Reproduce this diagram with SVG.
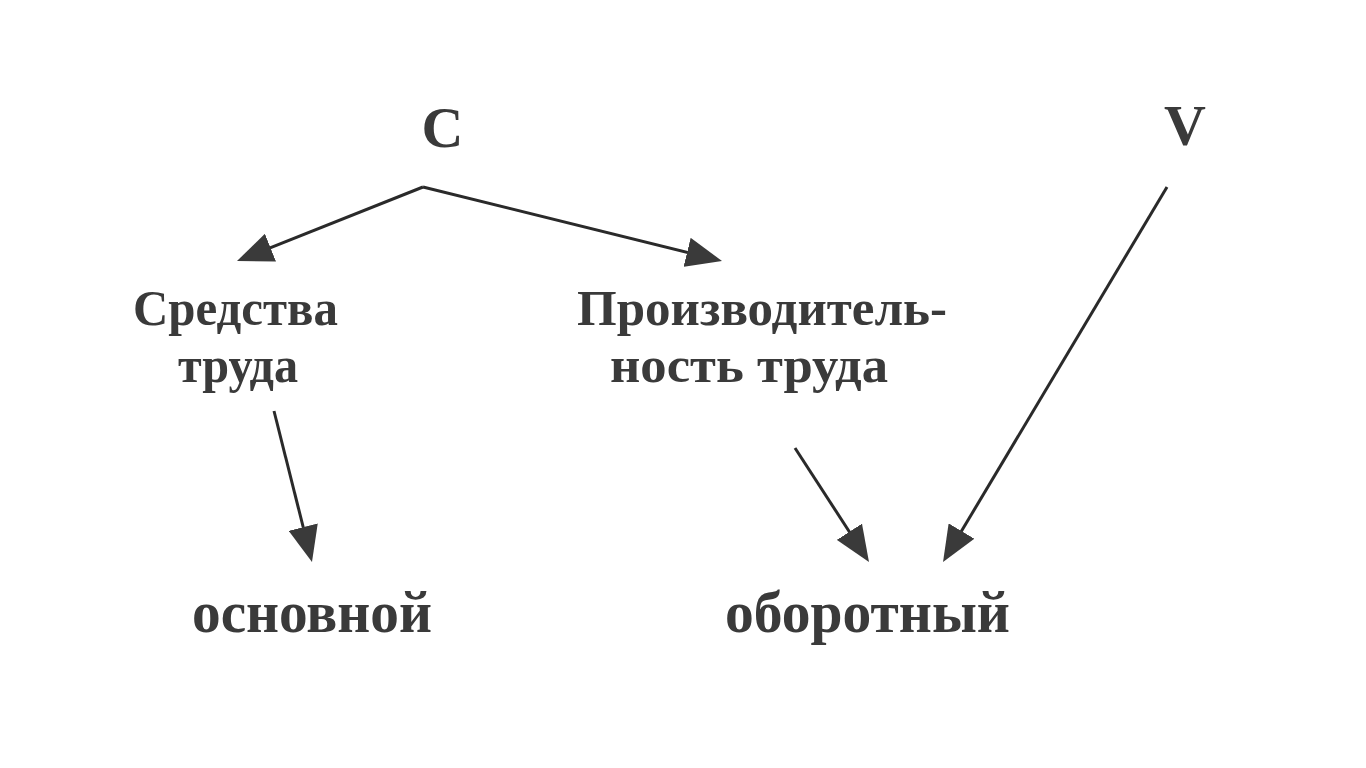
<svg xmlns="http://www.w3.org/2000/svg" width="1366" height="768" viewBox="0 0 1366 768">
  <style>
    .lbl { font-family: "Liberation Serif", "Times New Roman", serif; font-weight: bold; fill: #3a3a3a; }
    .big { font-size: 58px; }
    .mid { font-size: 51px; }
    .low { font-size: 60px; }
    .conn { stroke: #2a2a2a; stroke-width: 3; fill: none; marker-end: url(#arrow); }
  </style>
  <defs>
    <marker id="arrow" viewBox="0 0 36 30" refX="16" refY="15" markerWidth="36" markerHeight="30" markerUnits="userSpaceOnUse" orient="auto">
      <path d="M0,0 L36,15 L0,30 Z" fill="#3a3a3a"/>
    </marker>
  </defs>
  <rect x="0" y="0" width="1366" height="768" fill="#ffffff"/>

  <g id="connectors">
    <line class="conn" x1="423" y1="187" x2="255.6" y2="253.6"/>
    <line class="conn" x1="423" y1="187" x2="702.6" y2="256.2"/>
    <line class="conn" x1="274" y1="411" x2="307.1" y2="542.6"/>
    <line class="conn" x1="795" y1="448" x2="858.1" y2="545.2"/>
    <line class="conn" x1="1167" y1="187" x2="953.3" y2="544.8"/>
  </g>

  <g id="node-C">
    <text class="lbl big" x="442.5" y="147" text-anchor="middle">C</text>
  </g>
  <g id="node-V">
    <text class="lbl big" x="1185" y="145" text-anchor="middle">V</text>
  </g>
  <g id="node-sredstva">
    <text class="lbl mid" x="133" y="325" textLength="205" lengthAdjust="spacingAndGlyphs">Средства</text>
    <text class="lbl mid" x="178" y="382" textLength="120" lengthAdjust="spacingAndGlyphs">труда</text>
  </g>
  <g id="node-proizv">
    <text class="lbl mid" x="577" y="325" textLength="370" lengthAdjust="spacingAndGlyphs">Производитель-</text>
    <text class="lbl mid" x="610" y="382" textLength="278" lengthAdjust="spacingAndGlyphs">ность труда</text>
  </g>
  <g id="node-osnovnoy">
    <text class="lbl low" x="192" y="632" textLength="240" lengthAdjust="spacingAndGlyphs">основной</text>
  </g>
  <g id="node-oborotny">
    <text class="lbl low" x="725" y="632" textLength="285" lengthAdjust="spacingAndGlyphs">оборотный</text>
  </g>
</svg>
